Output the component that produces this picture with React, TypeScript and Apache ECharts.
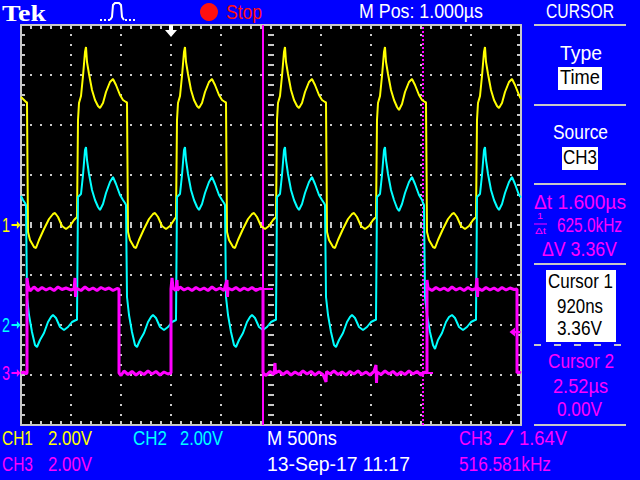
import React, { useEffect, useRef } from "react";
import * as echarts from "echarts";

// ---- horizontal: 500 ns/div, times in µs relative to trigger ----
const timeMin = -1.5;
const timeMax = 3.5;
const timeStep = 0.5;
// ---- vertical graticule (divisions) ----
const divMin = -4;
const divMax = 4;
const channelNames = ["CH1", "CH2", "CH3"];
const voltsPerDiv = [2.0, 2.0, 2.0];
const groundDiv = [0, -2, -2.96];
const channelColors = ["#ffff00", "#00ffff", "#ff00ff"];

// CH1 (yellow) [time µs, volts]
const ch1Trace: number[][] = [
  [-1.5, 5.12], [-1.47, 5.0], [-1.45, 4.92], [-1.44, 4.9],
  [-1.43, -0.28], [-1.41, -0.6], [-1.37, -0.88], [-1.35, -0.92], [-1.32, -0.6], [-1.27, -0.16], [-1.22, 0.24], [-1.18, 0.44], [-1.16, 0.48], [-1.13, 0.32], [-1.09, -0.04], [-1.05, -0.16], [-1.01, -0.04], [-0.97, 0.2], [-0.94, 0.32],
  [-0.93, 4.2], [-0.92, 4.88], [-0.9, 5.16], [-0.88, 5.96], [-0.86, 6.92], [-0.85, 7.12], [-0.84, 6.52], [-0.82, 6.04], [-0.79, 5.4], [-0.76, 5.0], [-0.73, 4.76], [-0.71, 4.68], [-0.68, 4.88], [-0.65, 5.32], [-0.61, 5.72], [-0.58, 5.84], [-0.55, 5.6], [-0.51, 5.2], [-0.48, 5.0], [-0.45, 4.92], [-0.44, 4.9],
  [-0.43, -0.28], [-0.41, -0.6], [-0.37, -0.88], [-0.35, -0.92], [-0.32, -0.6], [-0.27, -0.16], [-0.22, 0.24], [-0.18, 0.44], [-0.16, 0.48], [-0.13, 0.32], [-0.09, -0.04], [-0.05, -0.16], [-0.01, -0.04], [0.03, 0.2], [0.05, 0.32],
  [0.06, 4.2], [0.07, 4.88], [0.09, 5.16], [0.11, 5.96], [0.13, 6.92], [0.14, 7.12], [0.15, 6.52], [0.17, 6.04], [0.2, 5.4], [0.23, 5.0], [0.26, 4.76], [0.28, 4.68], [0.31, 4.88], [0.34, 5.32], [0.38, 5.72], [0.41, 5.84], [0.44, 5.6], [0.48, 5.2], [0.51, 5.0], [0.54, 4.92], [0.55, 4.9],
  [0.56, -0.28], [0.58, -0.6], [0.62, -0.88], [0.64, -0.92], [0.67, -0.6], [0.72, -0.16], [0.77, 0.24], [0.81, 0.44], [0.83, 0.48], [0.86, 0.32], [0.9, -0.04], [0.94, -0.16], [0.98, -0.04], [1.02, 0.2], [1.05, 0.32],
  [1.06, 4.2], [1.07, 4.88], [1.09, 5.16], [1.11, 5.96], [1.13, 6.92], [1.14, 7.12], [1.15, 6.52], [1.17, 6.04], [1.2, 5.4], [1.23, 5.0], [1.26, 4.76], [1.28, 4.68], [1.31, 4.88], [1.34, 5.32], [1.38, 5.72], [1.41, 5.84], [1.44, 5.6], [1.48, 5.2], [1.51, 5.0], [1.54, 4.92], [1.55, 4.9],
  [1.56, -0.28], [1.58, -0.6], [1.62, -0.88], [1.64, -0.92], [1.67, -0.6], [1.72, -0.16], [1.77, 0.24], [1.81, 0.44], [1.83, 0.48], [1.86, 0.32], [1.9, -0.04], [1.94, -0.16], [1.98, -0.04], [2.02, 0.2], [2.05, 0.32],
  [2.06, 4.2], [2.07, 4.88], [2.09, 5.16], [2.11, 5.96], [2.13, 6.92], [2.14, 7.12], [2.15, 6.52], [2.17, 6.04], [2.2, 5.4], [2.23, 5.0], [2.26, 4.72], [2.28, 4.6], [2.31, 4.84], [2.34, 5.32], [2.38, 5.72], [2.41, 5.84], [2.44, 5.6], [2.48, 5.2], [2.51, 5.0], [2.54, 4.92], [2.55, 4.9],
  [2.56, -0.28], [2.58, -0.6], [2.62, -0.88], [2.64, -0.92], [2.67, -0.6], [2.72, -0.16], [2.77, 0.24], [2.81, 0.44], [2.83, 0.48], [2.86, 0.32], [2.9, -0.04], [2.94, -0.16], [2.98, -0.04], [3.02, 0.2], [3.05, 0.32],
  [3.06, 4.2], [3.07, 4.88], [3.09, 5.16], [3.11, 5.96], [3.13, 6.92], [3.14, 7.12], [3.15, 6.52], [3.17, 6.04], [3.2, 5.4], [3.23, 5.0], [3.26, 4.76], [3.28, 4.68], [3.31, 4.88], [3.34, 5.32], [3.38, 5.72], [3.41, 5.84], [3.44, 5.6], [3.48, 5.2], [3.5, 5.04],
];

// CH2 (cyan)
const ch2Trace: number[][] = [
  [-1.5, 5.16], [-1.48, 5.0], [-1.46, 4.88], [-1.45, 4.8],
  [-1.44, 1.12], [-1.42, 0.4], [-1.39, -0.28], [-1.36, -0.8], [-1.34, -0.88], [-1.31, -0.6], [-1.27, -0.32], [-1.23, 0.12], [-1.2, 0.32], [-1.18, 0.4], [-1.15, 0.28], [-1.11, -0.08], [-1.07, -0.2], [-1.03, -0.08], [-0.99, 0.12], [-0.95, 0.2], [-0.94, 0.2],
  [-0.93, 5.12], [-0.92, 5.16], [-0.9, 5.24], [-0.88, 6.0], [-0.86, 7.0], [-0.85, 7.12], [-0.84, 6.6], [-0.82, 6.04], [-0.79, 5.4], [-0.76, 5.0], [-0.73, 4.72], [-0.71, 4.6], [-0.68, 4.84], [-0.65, 5.28], [-0.61, 5.72], [-0.58, 5.92], [-0.55, 5.64], [-0.51, 5.2], [-0.48, 5.0], [-0.46, 4.88], [-0.45, 4.8],
  [-0.44, 1.12], [-0.42, 0.4], [-0.39, -0.28], [-0.36, -0.8], [-0.34, -0.88], [-0.31, -0.6], [-0.27, -0.32], [-0.23, 0.12], [-0.2, 0.32], [-0.18, 0.4], [-0.15, 0.28], [-0.11, -0.08], [-0.07, -0.2], [-0.03, -0.08], [0.01, 0.12], [0.05, 0.2],
  [0.06, 5.12], [0.07, 5.16], [0.09, 5.24], [0.11, 6.0], [0.13, 7.0], [0.14, 7.12], [0.15, 6.6], [0.17, 6.04], [0.2, 5.4], [0.23, 5.0], [0.26, 4.72], [0.28, 4.6], [0.31, 4.84], [0.34, 5.28], [0.38, 5.72], [0.41, 5.92], [0.44, 5.64], [0.48, 5.2], [0.51, 5.0], [0.53, 4.88], [0.54, 4.8],
  [0.55, 1.12], [0.57, 0.4], [0.6, -0.28], [0.63, -0.8], [0.65, -0.88], [0.68, -0.6], [0.72, -0.32], [0.76, 0.12], [0.79, 0.32], [0.81, 0.4], [0.84, 0.28], [0.88, -0.08], [0.92, -0.2], [0.96, -0.08], [1.0, 0.12], [1.04, 0.2], [1.05, 0.2],
  [1.06, 5.12], [1.07, 5.16], [1.09, 5.24], [1.11, 6.0], [1.13, 7.0], [1.14, 7.12], [1.15, 6.6], [1.17, 6.04], [1.2, 5.4], [1.23, 5.0], [1.26, 4.72], [1.28, 4.6], [1.31, 4.84], [1.34, 5.28], [1.38, 5.72], [1.41, 5.92], [1.44, 5.64], [1.48, 5.2], [1.51, 5.0], [1.53, 4.88], [1.54, 4.8],
  [1.55, 1.12], [1.57, 0.4], [1.6, -0.28], [1.63, -0.8], [1.65, -0.88], [1.68, -0.6], [1.72, -0.32], [1.76, 0.12], [1.79, 0.32], [1.81, 0.4], [1.84, 0.28], [1.88, -0.08], [1.92, -0.2], [1.96, -0.08], [2.0, 0.12], [2.04, 0.2], [2.05, 0.2],
  [2.06, 5.12], [2.07, 5.16], [2.09, 5.24], [2.11, 6.0], [2.13, 7.0], [2.14, 7.12], [2.15, 6.6], [2.17, 6.04], [2.2, 5.4], [2.23, 5.0], [2.26, 4.68], [2.28, 4.56], [2.31, 4.84], [2.34, 5.28], [2.38, 5.72], [2.41, 5.92], [2.44, 5.64], [2.48, 5.2], [2.51, 5.0], [2.52, 4.88], [2.53, 4.8],
  [2.54, 1.12], [2.56, 0.4], [2.59, -0.28], [2.62, -0.8], [2.64, -0.96], [2.67, -0.6], [2.71, -0.32], [2.75, 0.12], [2.78, 0.32], [2.81, 0.4], [2.84, 0.28], [2.88, -0.08], [2.92, -0.2], [2.96, -0.08], [3.0, 0.12], [3.04, 0.2], [3.05, 0.2],
  [3.06, 5.12], [3.07, 5.16], [3.09, 5.24], [3.11, 6.0], [3.13, 7.0], [3.14, 7.12], [3.15, 6.6], [3.17, 6.04], [3.2, 5.4], [3.23, 5.0], [3.26, 4.72], [3.28, 4.6], [3.31, 4.84], [3.34, 5.28], [3.38, 5.72], [3.41, 5.92], [3.44, 5.64], [3.48, 5.2], [3.5, 5.1],
];

// CH3 (magenta)
const ch3Trace: number[][] = [
  [-1.5, 0.0], [-1.47, 0.04], [-1.45, -0.04], [-1.44, 0.0], [-1.44, 3.8], [-1.43, 3.5], [-1.41, 3.28], [-1.37, 3.44], [-1.33, 3.3], [-1.29, 3.42], [-1.25, 3.32], [-1.21, 3.4], [-1.17, 3.3], [-1.13, 3.44], [-1.09, 3.34], [-1.05, 3.4], [-1.0, 3.32], [-0.97, 3.36], [-0.96, 3.8], [-0.955, 3.04], [-0.95, 3.4], [-0.9, 3.3], [-0.86, 3.44], [-0.82, 3.32], [-0.78, 3.4], [-0.74, 3.3], [-0.7, 3.42], [-0.66, 3.34], [-0.62, 3.4], [-0.58, 3.3], [-0.54, 3.38], [-0.52, 3.36],
  [-0.52, 0.0], [-0.5, -0.1], [-0.47, 0.08], [-0.43, -0.06], [-0.39, 0.06], [-0.35, -0.08], [-0.31, 0.04], [-0.27, -0.06], [-0.23, 0.08], [-0.19, -0.04], [-0.15, 0.06], [-0.11, -0.08], [-0.07, 0.04], [-0.03, -0.04], [0.0, 0.0],
  [0.0, 3.36], [0.01, 3.8], [0.02, 3.4], [0.05, 3.3], [0.06, 3.72], [0.065, 3.3], [0.09, 3.44], [0.13, 3.32], [0.17, 3.4], [0.21, 3.3], [0.25, 3.42], [0.29, 3.32], [0.33, 3.4], [0.37, 3.3], [0.41, 3.44], [0.45, 3.32], [0.49, 3.4], [0.53, 3.3], [0.56, 3.72], [0.565, 3.04], [0.57, 3.4], [0.61, 3.32], [0.65, 3.42], [0.69, 3.3], [0.73, 3.4], [0.77, 3.32], [0.81, 3.42], [0.85, 3.3], [0.89, 3.38], [0.92, 3.36],
  [0.92, 0.0], [0.95, -0.1], [0.99, 0.06], [1.03, -0.06], [1.04, 0.4], [1.045, 0.0], [1.08, 0.08], [1.12, -0.06], [1.16, 0.06], [1.2, -0.08], [1.24, 0.04], [1.28, -0.06], [1.32, 0.08], [1.36, -0.04], [1.4, 0.06], [1.44, -0.08], [1.48, 0.04], [1.52, -0.06], [1.55, -0.36], [1.555, 0.06], [1.59, -0.04], [1.63, 0.08], [1.67, -0.06], [1.71, 0.04], [1.75, -0.08], [1.79, 0.06], [1.83, -0.04], [1.87, 0.08], [1.91, -0.06], [1.95, 0.04], [1.99, -0.08], [2.03, 0.06], [2.05, 0.32], [2.055, -0.4], [2.06, 0.04], [2.1, -0.06], [2.14, 0.08], [2.18, -0.04], [2.22, 0.06], [2.26, -0.08], [2.3, 0.04], [2.34, -0.06], [2.38, 0.08], [2.42, -0.04], [2.46, 0.06], [2.5, -0.08], [2.54, 0.04], [2.56, 0.0],
  [2.56, 3.72], [2.57, 3.4], [2.61, 3.3], [2.65, 3.42], [2.69, 3.32], [2.73, 3.4], [2.77, 3.3], [2.81, 3.44], [2.85, 3.32], [2.89, 3.4], [2.93, 3.3], [2.97, 3.42], [3.01, 3.32], [3.05, 3.38], [3.06, 3.8], [3.065, 3.04], [3.07, 3.4], [3.11, 3.3], [3.15, 3.42], [3.19, 3.32], [3.23, 3.4], [3.27, 3.3], [3.31, 3.42], [3.35, 3.32], [3.39, 3.4], [3.43, 3.34], [3.46, 3.36],
  [3.46, 0.0], [3.48, 0.04], [3.5, 0.0],
];

const cursorTimes = [0.92, 2.52]; // µs
const cursorVolts = [3.36, 0.0];
const triggerTime = 0;
const triggerLevel = 1.64;
const triggerFreqKHz = 516.581;
const dateLabel = "13-Sep-17 11:17";

const FONT = '"Liberation Sans", "DejaVu Sans", sans-serif';
const GRAT = "#c8c8c8";
const BLUE = "#0000ff";
const WHITE = "#ffffff";
const RED = "#ff1010";

let measureCtx: CanvasRenderingContext2D | null = null;
function textWidth(text: string, font: string) {
  if (!measureCtx) measureCtx = document.createElement("canvas").getContext("2d");
  if (!measureCtx) return text.length * 10;
  measureCtx.font = font;
  return measureCtx.measureText(text).width;
}

// text fitted horizontally between x1 and x2, vertically centred on y
const FT = (text: string, x1: number, x2: number, y: number, fill: string, size = 20, family = FONT, weight = "") => {
  const font = `${weight ? weight + " " : ""}${size}px ${family}`;
  const w = textWidth(text, font);
  return {
    type: "text",
    x: x1,
    y,
    scaleX: (x2 - x1) / w,
    z: 50,
    style: { text, fill, font, textAlign: "left", align: "left", textVerticalAlign: "middle", verticalAlign: "middle" },
  };
};
const L = (x1: number, y1: number, x2: number, y2: number, stroke = GRAT, lineWidth = 2, lineDash?: number[]) => ({
  type: "line",
  z: 50,
  shape: { x1, y1, x2, y2 },
  style: { stroke, lineWidth, lineDash },
});
const R = (x: number, y: number, width: number, height: number, fill = WHITE) => ({
  type: "rect",
  z: 49,
  shape: { x, y, width, height },
  style: { fill },
});

const tickStyle = { color: GRAT, width: 2 };

function timeAxis(position: string, extra: any = {}) {
  return {
    type: "value",
    min: timeMin,
    max: timeMax,
    interval: timeStep,
    position,
    axisLine: { show: true, onZero: false, lineStyle: { color: GRAT, width: 2 } },
    axisTick: { show: true, inside: true, length: 4, lineStyle: tickStyle },
    minorTick: { show: true, splitNumber: 5, length: 4, lineStyle: tickStyle },
    axisLabel: { show: false },
    splitLine: { show: false },
    ...extra,
  };
}
function divAxis(position: string, extra: any = {}) {
  return {
    type: "value",
    min: divMin,
    max: divMax,
    interval: 1,
    position,
    axisLine: { show: true, onZero: false, lineStyle: { color: GRAT, width: 2 } },
    axisTick: { show: true, inside: true, length: 4, lineStyle: tickStyle },
    minorTick: { show: true, splitNumber: 5, length: 4, lineStyle: tickStyle },
    axisLabel: { show: false },
    splitLine: { show: false },
    ...extra,
  };
}
const dotted = { show: true, lineStyle: { color: GRAT, width: 2, type: [2, 8], dashOffset: 1 } };
const centreTicks = {
  axisTick: { show: true, inside: true, length: 3, lineStyle: tickStyle },
  minorTick: { show: true, splitNumber: 5, length: 3, lineStyle: tickStyle },
};

const arrowRight = "path://M0,3 L6,3 L6,0 L10,4 L6,8 L6,5 L0,5 Z";
const arrowLeft = "path://M0,4 L5,0 L5,3 L10,3 L10,5 L5,5 L5,8 Z";
const arrowDown = "path://M4,0 L8,0 L8,5 L12,5 L6,12 L0,5 L4,5 Z";

function groundMarker(i: number) {
  return {
    coord: [timeMin, 0],
    symbol: arrowRight,
    symbolSize: [9, 8],
    symbolOffset: [-5, 0],
    itemStyle: { color: channelColors[i] },
    label: { show: false },
  };
}

export default function App() {
  const ref = useRef<HTMLDivElement>(null);
  useEffect(() => {
    const chart = echarts.init(ref.current!, null, { renderer: "svg", width: 640, height: 480 });
    const traces = [ch1Trace, ch2Trace, ch3Trace];
    const chYAxes = [0, 1, 2].map((i) => ({
      type: "value",
      show: false,
      min: (divMin - groundDiv[i]) * voltsPerDiv[i],
      max: (divMax - groundDiv[i]) * voltsPerDiv[i],
      axisLine: { onZero: false },
      splitLine: { show: false },
    }));
    const dt = cursorTimes[1] - cursorTimes[0];
    const fmtTime = (t: number) => (Math.abs(t) < 1 ? `${Math.round(t * 1000)}ns` : `${t.toFixed(2)}µs`);

    const series: any[] = [0, 1, 2].map((i) => ({
      type: "line",
      name: channelNames[i],
      xAxisIndex: 0,
      yAxisIndex: 4 + i,
      data: traces[i],
      showSymbol: false,
      symbol: "none",
      clip: true,
      z: 10 + i,
      lineStyle: { color: channelColors[i], width: i === 2 ? 3 : 2 },
      itemStyle: { color: channelColors[i] },
      markPoint: {
        silent: true,
        animation: false,
        data:
          i === 0
            ? [
                groundMarker(0),
                {
                  coord: [triggerTime, chYAxes[0].max],
                  symbol: arrowDown,
                  symbolSize: [12, 12],
                  symbolOffset: [0, 6],
                  itemStyle: { color: WHITE },
                  label: { show: false },
                },
              ]
            : i === 1
            ? [groundMarker(1)]
            : [
                groundMarker(2),
                {
                  coord: [timeMax, triggerLevel],
                  symbol: arrowLeft,
                  symbolSize: [11, 9],
                  symbolOffset: [-6, 0],
                  itemStyle: { color: channelColors[2] },
                  label: { show: false },
                },
              ],
      },
    }));
    series[2].markLine = {
      silent: true,
      animation: false,
      symbol: ["none", "none"],
      label: { show: false },
      lineStyle: { color: channelColors[2], width: 2, type: "solid" },
      data: [
        { xAxis: cursorTimes[0], lineStyle: { color: channelColors[2], width: 2, type: "solid" } },
        { xAxis: cursorTimes[1], lineStyle: { color: channelColors[2], width: 2, type: [2, 2] } },
        [{ coord: [cursorTimes[0] - 0.1, cursorVolts[0]] }, { coord: [cursorTimes[0] + 0.1, cursorVolts[0]] }],
        [{ coord: [cursorTimes[1] - 0.1, cursorVolts[1]] }, { coord: [cursorTimes[1] + 0.1, cursorVolts[1]] }],
      ],
    };
    series[2].z = 20;

    const option: any = {
      animation: false,
      backgroundColor: BLUE,
      grid: {
        left: 21,
        top: 25,
        width: 500,
        height: 400,
        show: true,
        backgroundColor: "#000000",
        borderWidth: 0,
        containLabel: false,
        outerBoundsMode: "none",
      },
      xAxis: [
        timeAxis("bottom", { splitLine: dotted }),
        timeAxis("top"),
        timeAxis("bottom", { axisLine: { show: false, onZero: true, onZeroAxisIndex: 0 }, ...centreTicks }),
        timeAxis("top", { axisLine: { show: false, onZero: true, onZeroAxisIndex: 0 }, ...centreTicks }),
        { type: "value", show: false, min: timeMin - (timeMin + timeMax) / 2, max: timeMax - (timeMin + timeMax) / 2, axisLine: { onZero: false } },
      ],
      yAxis: [
        divAxis("left", { splitLine: dotted }),
        divAxis("right"),
        divAxis("left", { axisLine: { show: false, onZero: true, onZeroAxisIndex: 4 }, ...centreTicks }),
        divAxis("right", { axisLine: { show: false, onZero: true, onZeroAxisIndex: 4 }, ...centreTicks }),
        ...chYAxes,
      ],
      series,
    };
    chart.setOption(option);

    // channel ground-level numbers placed through the channels' own scales
    const groundLabels = [0, 1, 2].map((i) => {
      const p = chart.convertToPixel({ xAxisIndex: 0, yAxisIndex: 4 + i } as any, [timeMin, 0]) as number[];
      return FT(String(i + 1), 2, 10, p[1], channelColors[i]);
    });

    const mid = (timeMin + timeMax) / 2;
    const graphic: any[] = [
      // top bar
      FT("Tek", 2, 46, 13, WHITE, 24, '"Liberation Serif", "DejaVu Serif", serif', "bold"),
      L(100, 20, 111, 20, WHITE, 2, [2, 2]),
      { type: "polyline", z: 50, shape: { points: [[110, 20], [112, 17], [113, 5], [115, 3], [119, 3], [121, 5], [122, 17], [124, 20]] }, style: { stroke: WHITE, lineWidth: 2, fill: null } },
      L(125, 20, 136, 20, WHITE, 2, [2, 2]),
      { type: "circle", z: 50, shape: { cx: 209, cy: 12, r: 9 }, style: { fill: RED } },
      FT("Stop", 226, 262, 12, RED),
      FT(`M Pos: ${mid.toFixed(3)}µs`, 359, 483, 11, WHITE),
      FT("CURSOR", 546, 614, 11, WHITE),
      // right panel separators
      L(534, 25, 626, 25),
      L(534, 105, 626, 105),
      L(534, 184, 626, 184),
      L(534, 264, 626, 264),
      L(534, 345, 626, 345, GRAT, 2, [7, 13]),
      L(534, 425, 626, 425),
      FT("Type", 560, 602, 53, WHITE),
      R(558, 67, 44, 23),
      FT("Time", 560, 600, 77, "#000"),
      FT("Source", 553, 608, 132, WHITE),
      R(562, 147, 36, 23),
      FT(channelNames[2], 563, 597, 157, "#000"),
      FT(`Δt ${dt.toFixed(3)}µs`, 534, 626, 202, channelColors[2]),
      FT("1", 537, 543, 216, channelColors[2], 9),
      L(534, 224, 547, 224, channelColors[2], 1),
      FT("Δt", 535, 546, 231, channelColors[2], 9),
      FT(`${(1000 / dt).toFixed(1)}kHz`, 557, 622, 225, channelColors[2]),
      FT(`ΔV ${(cursorVolts[0] - cursorVolts[1]).toFixed(2)}V`, 542, 617, 249, channelColors[2]),
      R(546, 270, 70, 72),
      FT("Cursor 1", 548, 613, 281, "#000"),
      FT(fmtTime(cursorTimes[0]), 557, 603, 306, "#000"),
      FT(`${cursorVolts[0].toFixed(2)}V`, 557, 602, 328, "#000"),
      FT("Cursor 2", 548, 614, 361, channelColors[2]),
      FT(fmtTime(cursorTimes[1]), 553, 608, 386, channelColors[2]),
      FT(`${cursorVolts[1].toFixed(2)}V`, 557, 602, 409, channelColors[2]),
      // bottom status
      FT(channelNames[0], 2, 33, 438, channelColors[0]),
      FT(`${voltsPerDiv[0].toFixed(2)}V`, 48, 92, 438, channelColors[0]),
      FT(channelNames[1], 133, 167, 438, channelColors[1]),
      FT(`${voltsPerDiv[1].toFixed(2)}V`, 180, 223, 438, channelColors[1]),
      FT(`M ${Math.round(timeStep * 1000)}ns`, 267, 337, 438, WHITE),
      FT(channelNames[2], 459, 492, 438, channelColors[2]),
      { type: "polyline", z: 50, shape: { points: [[499, 444], [505, 444], [513, 430]] }, style: { stroke: channelColors[2], lineWidth: 2, fill: null } },
      FT(`${triggerLevel.toFixed(2)}V`, 519, 567, 438, channelColors[2]),
      FT(channelNames[2], 2, 33, 464, channelColors[2]),
      FT(`${voltsPerDiv[2].toFixed(2)}V`, 48, 92, 464, channelColors[2]),
      FT(dateLabel, 267, 410, 464, WHITE),
      FT(`${triggerFreqKHz.toFixed(3)}kHz`, 459, 551, 464, channelColors[2]),
      ...groundLabels,
    ];
    chart.setOption({ graphic });
    return () => chart.dispose();
  }, []);
  return <div ref={ref} style={{ position: "fixed", left: 0, top: 0, width: 640, height: 480 }} />;
}
